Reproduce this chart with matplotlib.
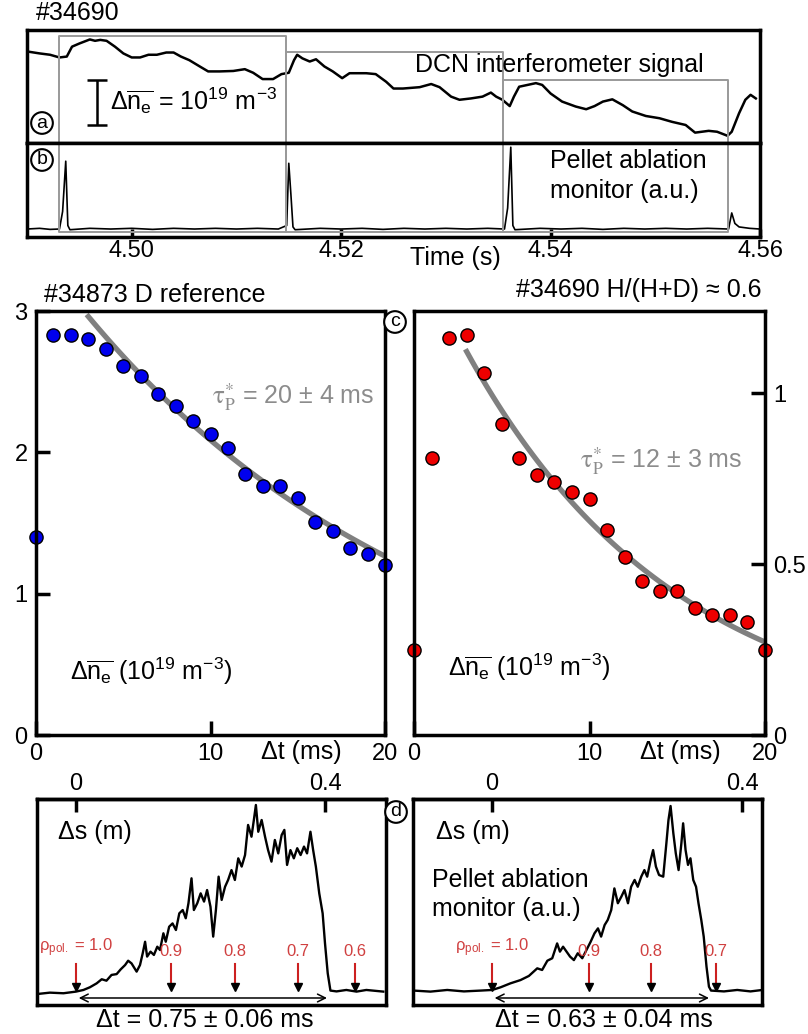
import numpy as np
import matplotlib
matplotlib.use('Agg')
import matplotlib.pyplot as plt

plt.rcParams['font.family'] = ['Liberation Sans', 'DejaVu Sans']
plt.rcParams['mathtext.fontset'] = 'custom'
plt.rcParams['mathtext.rm'] = 'Liberation Sans'
plt.rcParams['mathtext.it'] = 'Liberation Sans:italic'
plt.rcParams['mathtext.bf'] = 'Liberation Sans:bold'

# (a) DCN interferometer signal, time (s) / delta n_e (1e19 m^-3)
dcn_t = [4.4901, 4.4912, 4.4922, 4.4931, 4.4938, 4.4943, 4.4950, 4.4960, 4.4965, 4.4970,
         4.4976, 4.4984, 4.4992, 4.5000, 4.5008, 4.5016, 4.5024, 4.5033, 4.5040, 4.5047,
         4.5055, 4.5065, 4.5073, 4.5084, 4.5097, 4.5108, 4.5116, 4.5125, 4.5135, 4.5143,
         4.5150, 4.5155, 4.5158, 4.5163, 4.5170, 4.5176, 4.5184, 4.5192, 4.5201, 4.5208,
         4.5224, 4.5233, 4.5243, 4.5250, 4.5259, 4.5275, 4.5286, 4.5294, 4.5305, 4.5313,
         4.5324, 4.5335, 4.5343, 4.5348, 4.5354, 4.5361, 4.5365, 4.5370, 4.5378, 4.5386,
         4.5392, 4.5400, 4.5411, 4.5424, 4.5434, 4.5442, 4.5450, 4.5459, 4.5469, 4.5478,
         4.5491, 4.5504, 4.5516, 4.5529, 4.5538, 4.5551, 4.5559, 4.5569, 4.5573, 4.5580,
         4.5586, 4.5591, 4.5596]
dcn_v = [2.03, 1.99, 1.96, 1.90, 1.92, 2.14, 2.21, 2.30, 2.27, 2.29,
         2.27, 2.14, 1.99, 1.90, 1.90, 1.96, 1.96, 2.01, 2.01, 1.92,
         1.84, 1.70, 1.59, 1.59, 1.60, 1.64, 1.56, 1.42, 1.42, 1.53,
         1.56, 1.84, 1.96, 1.88, 1.81, 1.86, 1.70, 1.59, 1.44, 1.55,
         1.55, 1.53, 1.36, 1.21, 1.21, 1.24, 1.31, 1.24, 1.03, 0.96,
         0.99, 1.03, 1.12, 1.03, 0.96, 0.82, 1.03, 1.25, 1.29, 1.33,
         1.29, 1.10, 0.92, 0.81, 0.75, 0.82, 0.92, 0.97, 0.84, 0.70,
         0.60, 0.55, 0.47, 0.40, 0.23, 0.27, 0.25, 0.16, 0.25, 0.66,
         0.96, 1.07, 0.99]

# (b) pellet ablation monitor (a.u.)
pam_t = [4.4900, 4.4912, 4.4922, 4.4931, 4.4934, 4.4937, 4.4939, 4.4941, 4.4960, 4.4980,
         4.5000, 4.5020, 4.5040, 4.5060, 4.5080, 4.5100, 4.5120, 4.5140, 4.5148, 4.5150,
         4.5152, 4.5154, 4.5156, 4.5180, 4.5200, 4.5220, 4.5240, 4.5260, 4.5280, 4.5300,
         4.5320, 4.5340, 4.5356, 4.5359, 4.5362, 4.5364, 4.5366, 4.5390, 4.5410, 4.5430,
         4.5450, 4.5470, 4.5490, 4.5510, 4.5530, 4.5550, 4.5570, 4.5573, 4.5576, 4.5580,
         4.5590, 4.5600]
pam_v = [0.00, 0.01, -0.005, 0.00, 0.25, 0.97, 0.05, -0.01, 0.01, 0.00,
         0.01, -0.005, 0.01, 0.00, 0.01, 0.00, 0.01, 0.00, 0.05, 0.94,
         0.50, 0.03, -0.01, 0.01, 0.00, 0.01, -0.005, 0.01, 0.00, 0.01,
         0.00, 0.01, 0.00, 0.30, 1.17, 0.05, -0.01, 0.01, 0.00, 0.01,
         -0.005, 0.01, 0.00, 0.01, 0.00, 0.01, 0.00, 0.23, 0.08, 0.03,
         0.01, 0.00]

# grey boxes (pellet cycles)
box_t0 = [4.4931, 4.5147, 4.5355]
box_t1 = [4.5147, 4.5355, 4.5569]
box_top = [2.38, 2.02, 1.40]

# (c) density decay after pellet
dt_ms = np.arange(0, 21)
d_ref = [1.40, 2.83, 2.83, 2.80, 2.73, 2.61, 2.54, 2.41, 2.33, 2.22, 2.13,
         2.03, 1.85, 1.76, 1.76, 1.68, 1.51, 1.44, 1.32, 1.28, 1.20]
h_mix = [0.25, 0.81, 1.16, 1.17, 1.06, 0.91, 0.81, 0.76, 0.74, 0.71, 0.69,
         0.60, 0.52, 0.45, 0.42, 0.42, 0.37, 0.35, 0.35, 0.33, 0.25]
fit_d = (3.44, 20.0)
fit_h = (1.44, 12.0)

# (d) single pellet ablation traces, time (ms) / a.u.
abl_d_t = [-0.116, -0.077, -0.037, 0.000, 0.022, 0.041, 0.061, 0.076, 0.090, 0.105,
           0.120, 0.132, 0.145, 0.154, 0.164, 0.179, 0.189, 0.197, 0.204, 0.210,
           0.220, 0.230, 0.240, 0.248, 0.258, 0.265, 0.275, 0.285, 0.295, 0.305,
           0.315, 0.324, 0.332, 0.341, 0.348, 0.358, 0.368, 0.378, 0.387, 0.397,
           0.405, 0.413, 0.421, 0.430, 0.440, 0.449, 0.459, 0.469, 0.479, 0.489,
           0.499, 0.508, 0.518, 0.525, 0.531, 0.538, 0.548, 0.558, 0.567, 0.577,
           0.587, 0.597, 0.607, 0.615, 0.623, 0.633, 0.643, 0.653, 0.663, 0.673,
           0.682, 0.692, 0.700, 0.708, 0.718, 0.728, 0.735, 0.743, 0.751, 0.769,
           0.798, 0.828, 0.857, 0.907]
abl_d_v = [0.053, 0.060, 0.057, 0.065, 0.073, 0.086, 0.105, 0.125, 0.118, 0.146,
           0.150, 0.173, 0.194, 0.215, 0.202, 0.162, 0.194, 0.251, 0.307, 0.235,
           0.259, 0.243, 0.283, 0.267, 0.348, 0.307, 0.380, 0.396, 0.364, 0.445,
           0.461, 0.421, 0.494, 0.615, 0.461, 0.494, 0.542, 0.502, 0.558, 0.477,
           0.332, 0.461, 0.623, 0.510, 0.574, 0.607, 0.655, 0.607, 0.712, 0.672,
           0.728, 0.874, 0.817, 0.898, 0.971, 0.841, 0.898, 0.817, 0.752, 0.696,
           0.801, 0.736, 0.825, 0.850, 0.680, 0.752, 0.712, 0.761, 0.728, 0.769,
           0.736, 0.841, 0.752, 0.672, 0.542, 0.445, 0.299, 0.154, 0.070, 0.066,
           0.073, 0.065, 0.073, 0.065]
abl_h_t = [-0.224, -0.176, -0.128, -0.080, -0.032, 0.001, 0.025, 0.053, 0.082, 0.106,
           0.130, 0.144, 0.159, 0.173, 0.187, 0.195, 0.204, 0.214, 0.224, 0.235,
           0.246, 0.259, 0.271, 0.283, 0.294, 0.304, 0.313, 0.323, 0.332, 0.342,
           0.351, 0.361, 0.371, 0.380, 0.390, 0.399, 0.409, 0.418, 0.428, 0.437,
           0.445, 0.455, 0.462, 0.470, 0.479, 0.491, 0.500, 0.506, 0.512, 0.520,
           0.527, 0.535, 0.543, 0.548, 0.555, 0.562, 0.569, 0.577, 0.585, 0.592,
           0.600, 0.607, 0.615, 0.622, 0.628, 0.665, 0.703, 0.741, 0.775]
abl_h_v = [0.070, 0.065, 0.073, 0.066, 0.070, 0.073, 0.086, 0.105, 0.121, 0.141,
           0.178, 0.170, 0.215, 0.227, 0.299, 0.259, 0.283, 0.259, 0.235, 0.218,
           0.251, 0.227, 0.267, 0.307, 0.348, 0.372, 0.332, 0.388, 0.413, 0.461,
           0.566, 0.494, 0.526, 0.558, 0.494, 0.574, 0.607, 0.574, 0.623, 0.655,
           0.623, 0.704, 0.752, 0.672, 0.631, 0.623, 0.785, 0.898, 0.966, 0.833,
           0.736, 0.655, 0.785, 0.882, 0.752, 0.680, 0.712, 0.607, 0.574, 0.494,
           0.413, 0.332, 0.186, 0.089, 0.070, 0.066, 0.073, 0.066, 0.073]

rho_d_t = [0.0, 0.280, 0.469, 0.655, 0.823]
rho_d_lab = [r'$\mathrm{\rho}_{\mathrm{pol.}}$ = 1.0', '0.9', '0.8', '0.7', '0.6']
rho_h_t = [0.0, 0.278, 0.456, 0.642]
rho_h_lab = [r'$\mathrm{\rho}_{\mathrm{pol.}}$ = 1.0', '0.9', '0.8', '0.7']

W, H = 808, 1034
FS = 18      # annotation text
TS = 17      # tick labels
fig = plt.figure(figsize=(W / 100, H / 100), dpi=100)


def px_axes(x0, y0, x1, y1):
    return fig.add_axes([x0 / W, 1 - y1 / H, (x1 - x0) / W, (y1 - y0) / H])


def frame(ax, lw=2.5):
    for s in ax.spines.values():
        s.set_linewidth(lw)


GREY = '#999999'
ne_lab = r'$\Delta\overline{\mathrm{n}_\mathrm{e}}$'
tau_lab = r'$\mathrm{τ}_{\mathrm{P}}^{*}$'
circ = dict(boxstyle='circle,pad=0.12', fc='white', ec='k', lw=1.5)

# ---- (a) ----
ax_a = px_axes(27, 30, 760, 143)
ax_a.plot(dcn_t, dcn_v, color='k', lw=1.8)
for t0, t1, top in zip(box_t0, box_t1, box_top):
    ax_a.plot([t0, t0, t1, t1], [0, top, top, 0], color=GREY, lw=1.4)
ax_a.errorbar(4.4967, 0.9, yerr=0.5, color='k', lw=1.8, capsize=7, capthick=1.8)
ax_a.text(4.4979, 0.92, ne_lab + r' = 10$^{19}$ m$^{-3}$', va='center', fontsize=FS)
ax_a.text(4.5271, 1.73, 'DCN interferometer signal', va='center', fontsize=FS)
ax_a.set_xlim(4.49, 4.56)
ax_a.set_ylim(0, 2.51)
ax_a.set_xticks([])
ax_a.set_yticks([])
frame(ax_a)

# ---- (b) ----
ax_b = px_axes(27, 143, 760, 237)
ax_b.plot(pam_t, pam_v, color='k', lw=1.2)
for t0, t1 in zip(box_t0, box_t1):
    ax_b.plot([t0, t0, t1, t1], [1.23, -0.04, -0.04, 1.23], color=GREY, lw=1.4)
ax_b.text(4.5399, 1.15, 'Pellet ablation\nmonitor (a.u.)', va='top', fontsize=FS,
          linespacing=1.35)
ax_b.set_xlim(4.49, 4.56)
ax_b.set_ylim(-0.114, 1.23)
ax_b.set_xticks([4.50, 4.52, 4.54, 4.56])
ax_b.set_xticklabels(['4.50', '4.52', '4.54', '4.56'])
ax_b.set_yticks([])
ax_b.tick_params(axis='x', direction='in', length=6, width=2.5, labelsize=TS, pad=2)
frame(ax_b)
fig.text(455 / W, 1 - 258 / H, 'Time (s)', ha='center', va='center', fontsize=FS)
fig.text(36 / W, 1 - 13 / H, '#34690', va='center', fontsize=FS)

for lab, y in [('a', 123), ('b', 160)]:
    fig.text(42 / W, 1 - y / H, lab, ha='center', va='center', fontsize=14, bbox=circ)

# ---- (c) ----
tfit = np.linspace(3, 20, 60)
ax_c1 = px_axes(36, 311, 385, 735)
ax_c1.plot(tfit, fit_d[0] * np.exp(-tfit / fit_d[1]), color='#808080', lw=3.8)
ax_c1.plot(dt_ms, d_ref, 'o', ms=9.5, mfc='#0000ee', mec='k', mew=1.0, clip_on=False)
ax_c1.set_xlim(0, 20)
ax_c1.set_ylim(0, 3)
ax_c1.set_xticks([0, 10, 20])
ax_c1.set_yticks([0, 1, 2, 3])
ax_c1.tick_params(direction='in', length=10, width=2.5, labelsize=TS, pad=6)
ax_c1.text(10.1, 2.39, tau_lab + ' = 20 ± 4 ms', va='center',
           fontsize=FS, color='#8c8c8c', math_fontfamily='stix')
ax_c1.text(1.95, 0.15, ne_lab + r' (10$^{19}$ m$^{-3}$)', va='center', fontsize=FS,
           transform=ax_c1.get_xaxis_transform())
ax_c1.text(15.2, -0.04, 'Δt (ms)', ha='center', va='center', fontsize=FS,
           transform=ax_c1.get_xaxis_transform())
frame(ax_c1)
fig.text(44 / W, 1 - 295 / H, '#34873 D reference', va='center', fontsize=FS)

ax_c2 = px_axes(414, 311, 765, 735)
ax_c2.plot(tfit, fit_h[0] * np.exp(-tfit / fit_h[1]), color='#808080', lw=3.8)
ax_c2.plot(dt_ms, h_mix, 'o', ms=9.5, mfc='#ee0000', mec='k', mew=1.0, clip_on=False)
ax_c2.set_xlim(0, 20)
ax_c2.set_ylim(0, 1.24)
ax_c2.set_xticks([0, 10, 20])
ax_c2.set_yticks([0, 0.5, 1])
ax_c2.set_yticklabels(['0', '0.5', '1'])
ax_c2.yaxis.tick_right()
ax_c2.tick_params(direction='in', length=10, width=2.5, labelsize=TS, pad=6)
ax_c2.text(9.46, 0.80, tau_lab + ' = 12 ± 3 ms', va='center',
           fontsize=FS, color='#8c8c8c', math_fontfamily='stix')
ax_c2.text(1.94, 0.16, ne_lab + r' (10$^{19}$ m$^{-3}$)', va='center', fontsize=FS,
           transform=ax_c2.get_xaxis_transform())
ax_c2.text(15.2, -0.04, 'Δt (ms)', ha='center', va='center', fontsize=FS,
           transform=ax_c2.get_xaxis_transform())
frame(ax_c2)
fig.text(762 / W, 1 - 290 / H, '#34690 H/(H+D) ≈ 0.6', ha='right', va='center', fontsize=FS)
fig.text(395 / W, 1 - 322 / H, 'c', ha='center', va='center', fontsize=14, bbox=circ)


# ---- (d) ----
def ablation_panel(x0, x1, t, v, xlim, k, rho_t, rho_lab, dt_end, dt_text, dt_x):
    ax = px_axes(x0, 799, x1, 1005)
    ax.plot(t, v, color='k', lw=1.7)
    ax.set_xlim(*xlim)
    ax.set_ylim(0, 1)
    ax.set_xticks([])
    ax.set_yticks([])
    frame(ax)
    sec = ax.secondary_xaxis('top', functions=(lambda x: x * k, lambda s: s / k))
    sec.set_xticks([0, 0.4])
    sec.set_xticklabels(['0', '0.4'])
    sec.tick_params(direction='in', length=9, width=2.5, labelsize=TS, pad=3)
    sec.spines['top'].set_linewidth(2.5)
    for rt, rl in zip(rho_t, rho_lab):
        ax.plot([rt, rt], [0.2, 0.09], color='#cc2020', lw=1.5)
        ax.plot(rt, 0.085, marker='v', ms=6, color='k')
        ax.text(rt, 0.222, rl, ha='center', va='bottom', fontsize=12, color='#d04040')
    ax.annotate('', xy=(0, 0.034), xytext=(dt_end, 0.034),
                arrowprops=dict(arrowstyle='<->', color='k', lw=1.1, mutation_scale=14))
    ax.text(dt_x, -0.075, dt_text, ha='center', va='center', fontsize=FS,
            transform=ax.get_xaxis_transform())
    return ax


ax_d1 = ablation_panel(37, 386, abl_d_t, abl_d_v, (-0.115, 0.915), 0.544,
                       rho_d_t, rho_d_lab, 0.749, 'Δt = 0.75 ± 0.06 ms', 0.38)
ax_d1.text(-0.053, 0.84, 'Δs (m)', va='center', fontsize=FS)

ax_d2 = ablation_panel(413, 762, abl_h_t, abl_h_v, (-0.226, 0.774), 0.558,
                       rho_h_t, rho_h_lab, 0.63, 'Δt = 0.63 ± 0.04 ms', 0.32)
ax_d2.text(-0.16, 0.84, 'Δs (m)', va='center', fontsize=FS)
ax_d2.text(-0.172, 0.535, 'Pellet ablation\nmonitor (a.u.)', va='center', fontsize=FS,
           linespacing=1.25)
fig.text(396 / W, 1 - 812 / H, 'd', ha='center', va='center', fontsize=14, bbox=circ)

fig.savefig('out.png', dpi=100)
